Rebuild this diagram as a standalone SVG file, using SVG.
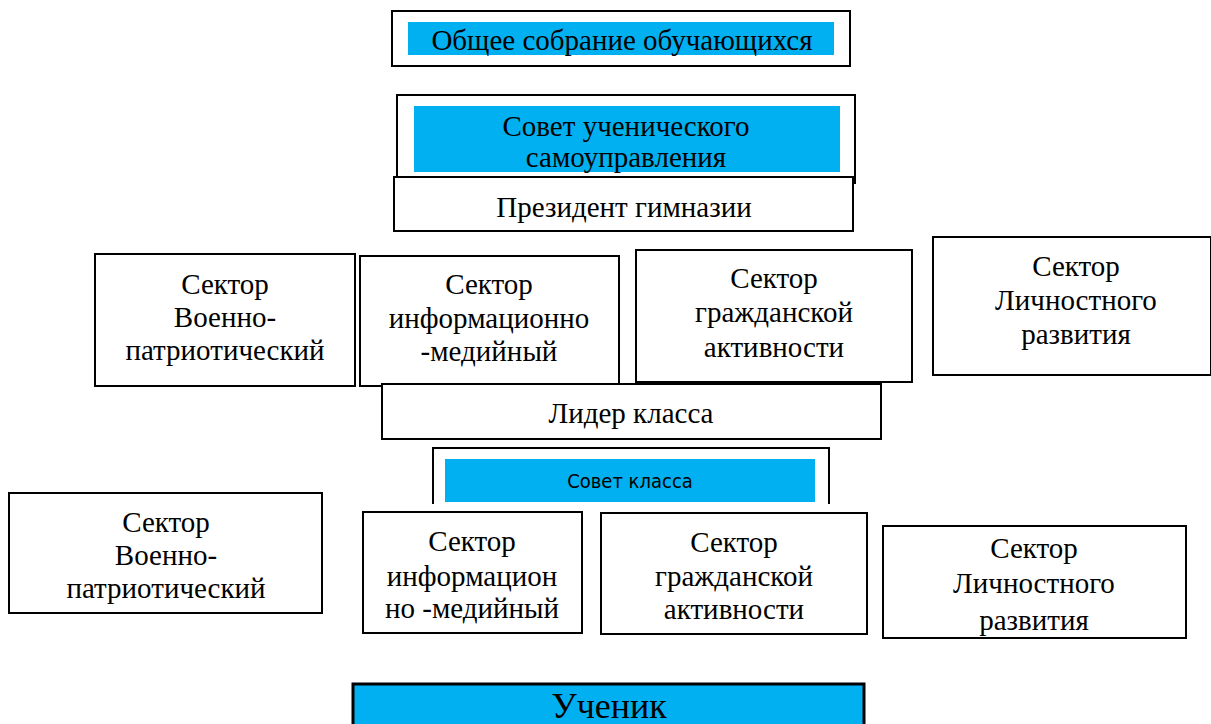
<svg xmlns="http://www.w3.org/2000/svg" width="1211" height="724" viewBox="0 0 1211 724">
<style>
.box{fill:#fff;stroke:#000;stroke-width:2}
.blue{fill:#00B0F0;stroke:none}
.t{font-family:"Liberation Serif","Times New Roman",serif;font-size:29px;fill:#000;text-anchor:middle}
.s{font-family:"DejaVu Sans Condensed","Liberation Sans Narrow",sans-serif;font-size:20px;fill:#000;text-anchor:middle}
</style>
<rect width="1211" height="724" fill="#fff"/>
<g id="connectors"></g>
<g id="obshee">
<rect class="box" x="392" y="11" width="458" height="55"/>
<rect class="blue" x="408" y="22" width="426" height="33"/>
<text class="t" x="622" y="50">Общее собрание обучающихся</text>
</g>
<g id="sovet-uch">
<rect class="box" x="397" y="95" width="458" height="88"/>
<rect class="blue" x="414" y="106" width="426" height="66"/>
<text class="t" x="626" y="136">Совет ученического</text>
<text class="t" x="626" y="167">самоуправления</text>
</g>
<g id="president">
<rect class="box" x="394" y="177" width="459" height="54"/>
<text class="t" x="624" y="217">Президент гимназии</text>
</g>
<g id="s1-voen">
<rect class="box" x="95" y="254" width="260" height="132"/>
<text class="t" x="225" y="294">Сектор</text>
<text class="t" x="225" y="327">Военно-</text>
<text class="t" x="225" y="360">патриотический</text>
</g>
<g id="s1-info">
<rect class="box" x="360" y="256" width="259" height="130"/>
<text class="t" x="489" y="294">Сектор</text>
<text class="t" x="489" y="328">информационно</text>
<text class="t" x="489" y="361">-медийный</text>
</g>
<g id="s1-grazh">
<rect class="box" x="636" y="250" width="276" height="132"/>
<text class="t" x="774" y="288">Сектор</text>
<text class="t" x="774" y="322">гражданской</text>
<text class="t" x="774" y="357">активности</text>
</g>
<g id="s1-lich">
<rect class="box" x="933" y="237" width="278" height="138"/>
<text class="t" x="1076" y="276">Сектор</text>
<text class="t" x="1076" y="310">Личностного</text>
<text class="t" x="1076" y="344">развития</text>
</g>
<g id="lider">
<rect class="box" x="382" y="384" width="499" height="55"/>
<text class="t" x="631" y="423">Лидер класса</text>
</g>
<g id="sovet-klassa">
<path d="M433 504 V448 H829 V504" fill="#fff" stroke="#000" stroke-width="2"/>
<rect class="blue" x="445" y="459" width="370" height="43"/>
<text class="s" x="630" y="488">Совет класса</text>
</g>
<g id="s2-voen">
<rect class="box" x="9" y="493" width="313" height="120"/>
<text class="t" x="166" y="532">Сектор</text>
<text class="t" x="166" y="565">Военно-</text>
<text class="t" x="166" y="598">патриотический</text>
</g>
<g id="s2-info">
<rect class="box" x="363" y="512" width="219" height="121"/>
<text class="t" x="472" y="551">Сектор</text>
<text class="t" x="472" y="586">информацион</text>
<text class="t" x="472" y="618">но -медийный</text>
</g>
<g id="s2-grazh">
<rect class="box" x="601" y="513" width="266" height="121"/>
<text class="t" x="734" y="552">Сектор</text>
<text class="t" x="734" y="586">гражданской</text>
<text class="t" x="734" y="619">активности</text>
</g>
<g id="s2-lich">
<rect class="box" x="883" y="526" width="303" height="112"/>
<text class="t" x="1034" y="558">Сектор</text>
<text class="t" x="1034" y="593">Личностного</text>
<text class="t" x="1034" y="630">развития</text>
</g>
<g id="uchenik">
<rect x="353" y="684" width="511" height="50" fill="#00B0F0" stroke="#000" stroke-width="3"/>
<text class="t" x="609" y="718" style="font-size:36px">Ученик</text>
</g>
</svg>
